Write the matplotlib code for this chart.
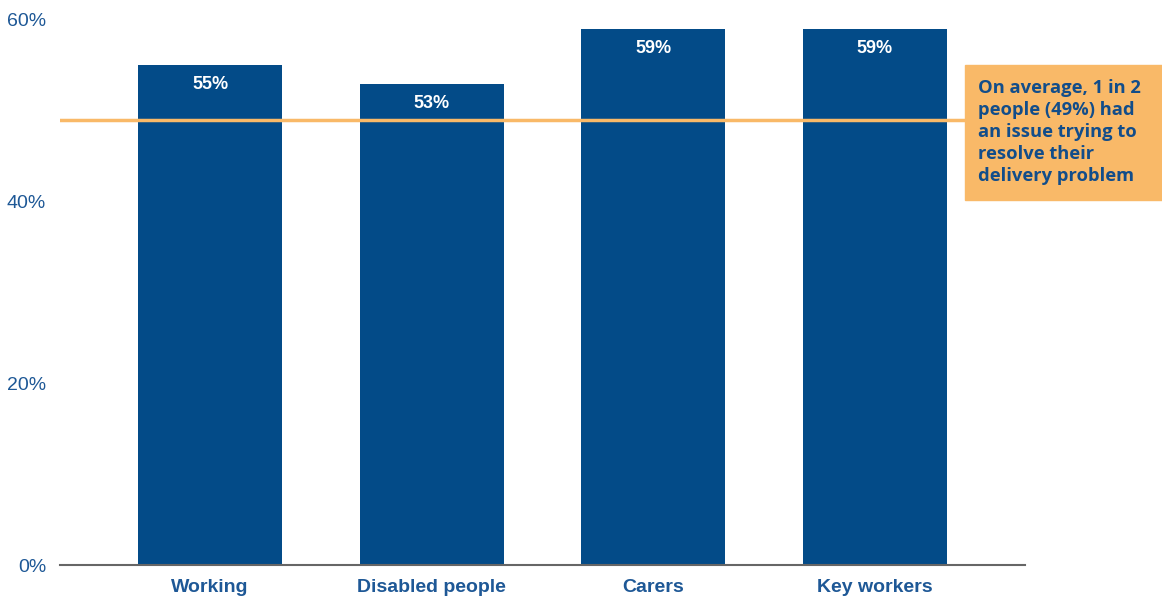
import matplotlib.pyplot as plt
from matplotlib.patches import Rectangle

categories = ["Working", "Disabled people", "Carers", "Key workers"]
values = [55, 53, 59, 59]
average = 49
yticks = [0, 20, 40, 60]
note = "On average, 1 in 2\npeople (49%) had\nan issue trying to\nresolve their\ndelivery problem"

bar_color = "#034b88"
label_color = "#1e5896"
avg_color = "#f9b968"

plt.rcParams["font.family"] = ["Liberation Sans", "DejaVu Sans"]

fig = plt.figure(figsize=(11.62, 5.98), dpi=100)
ax = fig.add_axes([60 / 1162, 33 / 598, 965 / 1162, 545 / 598])

x = range(len(categories))
bars = ax.bar(x, values, width=0.65, color=bar_color, zorder=2)
for b, v in zip(bars, values):
    ax.annotate(f"{v}%", (b.get_x() + b.get_width() / 2, v), xytext=(0, -14),
                textcoords="offset points", ha="center", va="center",
                color="white", fontsize=13, fontweight="bold", zorder=4)

ax.axhline(average, xmin=0, xmax=(965 - 60) / 965, color=avg_color, lw=2.5, zorder=3)

ax.set_xlim(-0.677, 3.677)
ax.set_ylim(0, 60)
ax.set_yticks(yticks)
ax.set_yticklabels([f"{t}%" for t in yticks])
ax.set_xticks(list(x))
ax.set_xticklabels(categories, fontweight="bold")
ax.tick_params(axis="y", length=0, labelsize=14, labelcolor=label_color, pad=10)
ax.tick_params(axis="x", length=0, labelsize=14, labelcolor=label_color, pad=10)
for s in ["top", "right", "left"]:
    ax.spines[s].set_visible(False)
ax.spines["bottom"].set_color("#666666")
ax.spines["bottom"].set_linewidth(1.5)
ax.spines["bottom"].set_zorder(3)

# callout box for the average
fig.patches.append(Rectangle((965 / 1162, 398 / 598), 197 / 1162, 135 / 598,
                             transform=fig.transFigure, color=avg_color, zorder=5))
fig.text(978 / 1162, (598 - 132) / 598, note, transform=fig.transFigure,
         fontsize=13.2, fontweight="bold", color="#124d8a", family="Open Sans",
         va="center", ha="left", linespacing=1.28, zorder=6)

fig.savefig("out.png", dpi=100)
